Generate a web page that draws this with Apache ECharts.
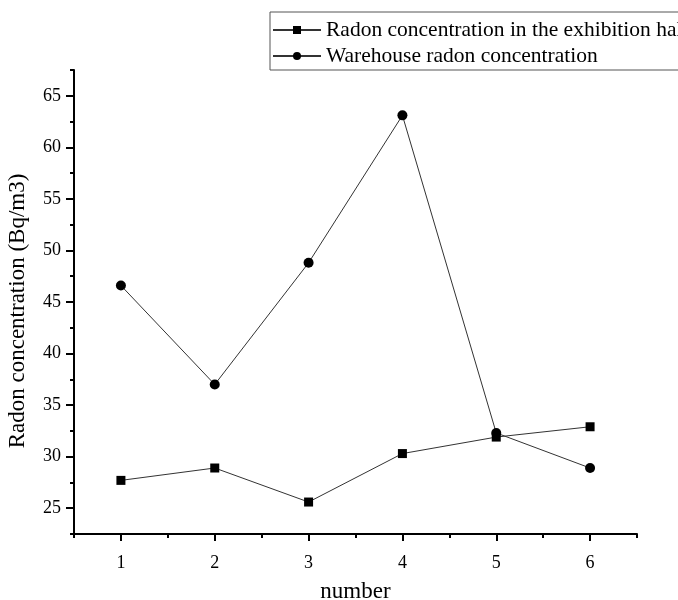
<!DOCTYPE html>
<html>
<head>
<meta charset="utf-8">
<script src="https://cdn.jsdelivr.net/npm/echarts@6/dist/echarts.min.js"></script>
<style>
  html, body { margin: 0; padding: 0; background: #fff; }
  #main { width: 678px; height: 600px; }
</style>
</head>
<body>
<div id="main"></div>
<script>
// 数据
var xValues = [1, 2, 3, 4, 5, 6];
var hallRadon = [27.7, 28.9, 25.6, 30.3, 31.9, 32.9];
var warehouseRadon = [46.6, 37.0, 48.8, 63.1, 32.3, 28.9];
var yMajorTicks = [25, 30, 35, 40, 45, 50, 55, 60, 65];
var yMinorTicks = [22.5, 27.5, 32.5, 37.5, 42.5, 47.5, 52.5, 57.5, 62.5, 67.5];
var xMinorTicks = [0.5, 1.5, 2.5, 3.5, 4.5, 5.5, 6.5];

var serif = '"Liberation Serif", "DejaVu Serif", serif';

function pairs(ys) {
    return xValues.map(function (x, i) { return [x, ys[i]]; });
}

var chart = echarts.init(document.getElementById('main'));

var option = {
    backgroundColor: '#fff',
    animation: false,
    legend: {
        orient: 'vertical',
        left: 270,
        top: 12,
        padding: [7, 5, 3, 2],
        itemGap: 4,
        itemWidth: 48,
        itemHeight: 10,
        borderColor: '#555',
        borderWidth: 1,
        textStyle: {fontFamily: serif, fontSize: 21.5, color: '#000'},
        data: ['Radon concentration in the exhibition hall', 'Warehouse radon concentration']
    },
    grid: {left: 74, right: 41, top: 70, bottom: 66, outerBoundsMode: 'none', containLabel: false},
    xAxis: [
        {
            type: 'value',
            min: 0.5,
            max: 6.5,
            name: 'number',
            nameLocation: 'middle',
            nameGap: 46,
            nameTextStyle: {fontFamily: serif, fontSize: 23, color: '#000'},
            splitLine: {show: false},
            axisLine: {show: true, lineStyle: {color: '#000', width: 2}},
            axisTick: {show: true, length: 7, customValues: xValues, lineStyle: {color: '#000', width: 2}},
            axisLabel: {customValues: xValues, margin: 20, fontFamily: serif, fontSize: 18, color: '#000'}
        },
        {
            type: 'value',
            position: 'bottom',
            min: 0.5,
            max: 6.5,
            splitLine: {show: false},
            axisLine: {show: false},
            axisTick: {show: true, length: 4, customValues: xMinorTicks, lineStyle: {color: '#000', width: 2}},
            axisLabel: {show: false}
        }
    ],
    yAxis: [
        {
            type: 'value',
            min: 22.5,
            max: 67.5,
            name: 'Radon concentration (Bq/m3)',
            nameLocation: 'middle',
            nameGap: 45,
            nameTextStyle: {fontFamily: serif, fontSize: 23, color: '#000', padding: [0, 18, 0, 0]},
            splitLine: {show: false},
            axisLine: {show: true, lineStyle: {color: '#000', width: 2}},
            axisTick: {show: true, length: 8, customValues: yMajorTicks, lineStyle: {color: '#000', width: 2}},
            axisLabel: {customValues: yMajorTicks, margin: 13, fontFamily: serif, fontSize: 18, color: '#000'}
        },
        {
            type: 'value',
            position: 'left',
            min: 22.5,
            max: 67.5,
            splitLine: {show: false},
            axisLine: {show: false},
            axisTick: {show: true, length: 4, customValues: yMinorTicks, lineStyle: {color: '#000', width: 2}},
            axisLabel: {show: false}
        }
    ],
    series: [
        {
            name: 'Radon concentration in the exhibition hall',
            type: 'line',
            data: pairs(hallRadon),
            symbol: 'rect',
            symbolSize: 9,
            itemStyle: {color: '#000'},
            lineStyle: {color: '#333', width: 1}
        },
        {
            name: 'Warehouse radon concentration',
            type: 'line',
            data: pairs(warehouseRadon),
            symbol: 'circle',
            symbolSize: 10,
            itemStyle: {color: '#000'},
            lineStyle: {color: '#333', width: 1}
        }
    ]
};

chart.setOption(option);
</script>
</body>
</html>
